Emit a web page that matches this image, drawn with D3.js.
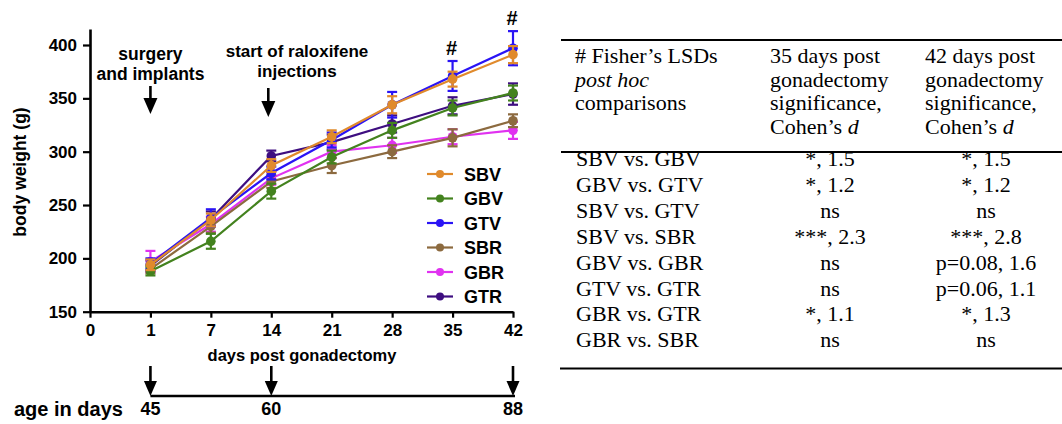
<!DOCTYPE html>
<html><head><meta charset="utf-8">
<script src="https://cdn.jsdelivr.net/npm/d3@7"></script>
<style>
html,body{margin:0;padding:0;background:#fff;}
svg{display:block;}
.sans{font-family:"Liberation Sans",Arial,Helvetica,sans-serif;font-weight:bold;}
.serif{font-family:"Liberation Serif","Times New Roman",serif;}
</style></head>
<body>
<svg id="c" width="1062" height="424"></svg>
<script>
// ---------- data ----------
const dayTicks = ["0","1","7","14","21","28","35","42"];
const measureDays = ["1","7","14","21","28","35","42"];
const seriesNames = ["SBV","GBV","GTV","SBR","GBR","GTR"];
const seriesColors = ["#E08A2C","#43821E","#2A14F5","#8C6A3F","#E032F0","#3E0E80"];
const SBV = [194, 236, 287, 314, 344, 368, 391];
const GBV = [188, 216, 263, 295, 320, 341, 355];
const GTV = [195, 238, 280, 311, 344, 371, 397];
const SBR = [190, 230, 272, 287, 300, 313, 329];
const GBR = [197, 232, 275, 300, 306, 314, 320];
const GTR = [193, 237, 296, 309, 326, 343, 354];
const SBVerr = [5, 6, 6, 6, 8, 7, 8];
const GBVerr = [4, 7, 7, 6, 7, 7, 7];
const GTVerr = [5, 8, 6, 7, 12, 14, 16];
const SBRerr = [4, 6, 6, 7, 6, 8, 6];
const GBRerr = [10, 7, 6, 6, 7, 7, 8];
const GTRerr = [5, 7, 5, 7, 8, 8, 10];
const yTicks = [150, 200, 250, 300, 350, 400];
const hashDays = ["35","42"];
const ageDays = ["1","14","42"];
const ageLabels = ["45","60","88"];

const tableHeadCol1 = [["# Fisher’s LSDs",false],["post hoc",true],["comparisons",false]];
const tableHeadCol2 = ["35 days post","gonadectomy","significance,"];
const tableHeadCol3 = ["42 days post","gonadectomy","significance,"];
const rowLabels = ["SBV vs. GBV","GBV vs. GTV","SBV vs. GTV","SBV vs. SBR","GBV vs. GBR","GTV vs. GTR","GBR vs. GTR","GBR vs. SBR"];
const col35 = ["*, 1.5","*, 1.2","ns","***, 2.3","ns","ns","*, 1.1","ns"];
const col42 = ["*, 1.5","*, 1.2","ns","***, 2.8","p=0.08, 1.6","p=0.06, 1.1","*, 1.3","ns"];

const values = {SBV, GBV, GTV, SBR, GBR, GTR};
const errors = {SBV:SBVerr, GBV:GBVerr, GTV:GTVerr, SBR:SBRerr, GBR:GBRerr, GTR:GTRerr};

// ---------- chart ----------
const svg = d3.select("#c");
const x = d3.scalePoint().domain(dayTicks).range([90, 513]);
const y = d3.scaleLinear().domain([150, 415]).range([311.7, 29]);
const color = d3.scaleOrdinal().domain(seriesNames).range(seriesColors);

// axes
const gy = svg.append("g").attr("transform","translate(90,0)")
  .call(d3.axisLeft(y).tickValues(yTicks).tickSize(7).tickSizeOuter(0).tickPadding(6));
gy.select(".domain").attr("stroke-width",2.6);
gy.selectAll(".tick line").attr("stroke-width",2.2);
gy.selectAll("text").attr("class","sans").style("font-size","17px").attr("fill","#000");

const gx = svg.append("g").attr("transform","translate(0,311.7)")
  .call(d3.axisBottom(x).tickSize(6).tickSizeOuter(0).tickPadding(6));
gx.select(".domain").attr("stroke-width",2.6);
gx.selectAll(".tick line").attr("stroke-width",2.2);
gx.selectAll("text").attr("class","sans").style("font-size","17px").attr("fill","#000");

svg.append("text").attr("class","sans").style("font-size","17.5px")
  .attr("transform","translate(26,172) rotate(-90)").attr("text-anchor","middle").text("body weight (g)");
svg.append("text").attr("class","sans").style("font-size","16.5px")
  .attr("x",302).attr("y",361).attr("text-anchor","middle").text("days post gonadectomy");

// series
const drawOrder = ["GTR","GBR","SBR","GTV","GBV","SBV"];
const line = d3.line().x((d,i)=>x(measureDays[i])).y(d=>y(d));
drawOrder.forEach(name=>{
  const g = svg.append("g");
  const c = color(name);
  g.append("path").datum(values[name]).attr("d",line).attr("fill","none").attr("stroke",c).attr("stroke-width",2.2);
  const e = g.selectAll(".eb").data(values[name]).enter().append("g");
  e.append("line").attr("x1",(d,i)=>x(measureDays[i])).attr("x2",(d,i)=>x(measureDays[i]))
    .attr("y1",(d,i)=>y(d-errors[name][i])).attr("y2",(d,i)=>y(d+errors[name][i])).attr("stroke",c).attr("stroke-width",2.2);
  [1,-1].forEach(s=>{
    e.append("line").attr("x1",(d,i)=>x(measureDays[i])-5).attr("x2",(d,i)=>x(measureDays[i])+5)
      .attr("y1",(d,i)=>y(d+s*errors[name][i])).attr("y2",(d,i)=>y(d+s*errors[name][i])).attr("stroke",c).attr("stroke-width",2.2);
  });
  e.append("circle").attr("cx",(d,i)=>x(measureDays[i])).attr("cy",d=>y(d)).attr("r",4.8).attr("fill",c);
});

// hash marks
hashDays.forEach(d=>{
  const i = measureDays.indexOf(d);
  const top = GTV[i] + GTVerr[i];
  svg.append("text").attr("class","sans").style("font-size","20px").attr("text-anchor","middle")
    .attr("x",x(d)-1).attr("y",y(top)-6).text("#");
});

// legend
const leg = svg.append("g");
seriesNames.forEach((n,i)=>{
  const yy = 174 + i*24.5;
  leg.append("line").attr("x1",427).attr("x2",453).attr("y1",yy).attr("y2",yy).attr("stroke",color(n)).attr("stroke-width",2.2);
  leg.append("circle").attr("cx",440).attr("cy",yy).attr("r",4).attr("fill",color(n));
  leg.append("text").attr("class","sans").style("font-size","18px").attr("x",464).attr("y",yy+6.5).text(n);
});

// arrows
function downArrow(cx, y0, y1, hw, hh){
  svg.append("line").attr("x1",cx).attr("x2",cx).attr("y1",y0).attr("y2",y1-hh+1).attr("stroke","#000").attr("stroke-width",2.6);
  svg.append("path").attr("d",`M${cx-hw},${y1-hh}L${cx+hw},${y1-hh}L${cx},${y1}Z`).attr("fill","#000");
}
svg.append("text").attr("class","sans").style("font-size","17.5px").attr("text-anchor","middle").attr("x",x("1")).attr("y",60).text("surgery");
svg.append("text").attr("class","sans").style("font-size","17.5px").attr("text-anchor","middle").attr("x",x("1")).attr("y",80).text("and implants");
downArrow(x("1"), 86, 114, 7, 16);
svg.append("text").attr("class","sans").style("font-size","17px").attr("text-anchor","middle").attr("x",297).attr("y",57).text("start of raloxifene");
svg.append("text").attr("class","sans").style("font-size","17px").attr("text-anchor","middle").attr("x",297).attr("y",77).text("injections");
downArrow(x("14")-3, 88, 117, 7, 16);

// age timeline
svg.append("line").attr("x1",x("1")).attr("x2",x("42")+2).attr("y1",396).attr("y2",396).attr("stroke","#000").attr("stroke-width",2.4);
ageDays.forEach((d,i)=>{
  downArrow(x(d), 366, 396, 6.5, 15);
  svg.append("text").attr("class","sans").style("font-size","18px").attr("text-anchor","middle").attr("x",x(d)).attr("y",415).text(ageLabels[i]);
});
svg.append("text").attr("class","sans").style("font-size","20px").attr("x",14).attr("y",416).text("age in days");

// ---------- table ----------
const t = svg.append("g").attr("class","serif").style("font-size","22px");
t.append("line").attr("x1",561).attr("x2",1062).attr("y1",40).attr("y2",40).attr("stroke","#000").attr("stroke-width",2.2);
t.append("line").attr("x1",561).attr("x2",1062).attr("y1",152).attr("y2",152).attr("stroke","#000").attr("stroke-width",2.2);
t.append("line").attr("x1",560).attr("x2",1062).attr("y1",368.5).attr("y2",368.5).attr("stroke","#000").attr("stroke-width",2.2);
const hb = [63, 86.5, 110, 133.5];
tableHeadCol1.forEach((r,i)=>{
  t.append("text").attr("x",575).attr("y",hb[i]).style("font-style",r[1]?"italic":"normal").text(r[0]);
});
[[tableHeadCol2,770],[tableHeadCol3,925]].forEach(([col,xx])=>{
  col.forEach((s,i)=>t.append("text").attr("x",xx).attr("y",hb[i]).text(s));
  const tx = t.append("text").attr("x",xx).attr("y",hb[3]);
  tx.append("tspan").text("Cohen’s ");
  tx.append("tspan").style("font-style","italic").text("d");
});
rowLabels.forEach((r,i)=>{
  const yy = 166 + i*25.9;
  t.append("text").attr("x",576).attr("y",yy).text(r);
  t.append("text").attr("x",830).attr("y",yy).attr("text-anchor","middle").text(col35[i]);
  t.append("text").attr("x",986).attr("y",yy).attr("text-anchor","middle").text(col42[i]);
});
</script>
</body></html>
